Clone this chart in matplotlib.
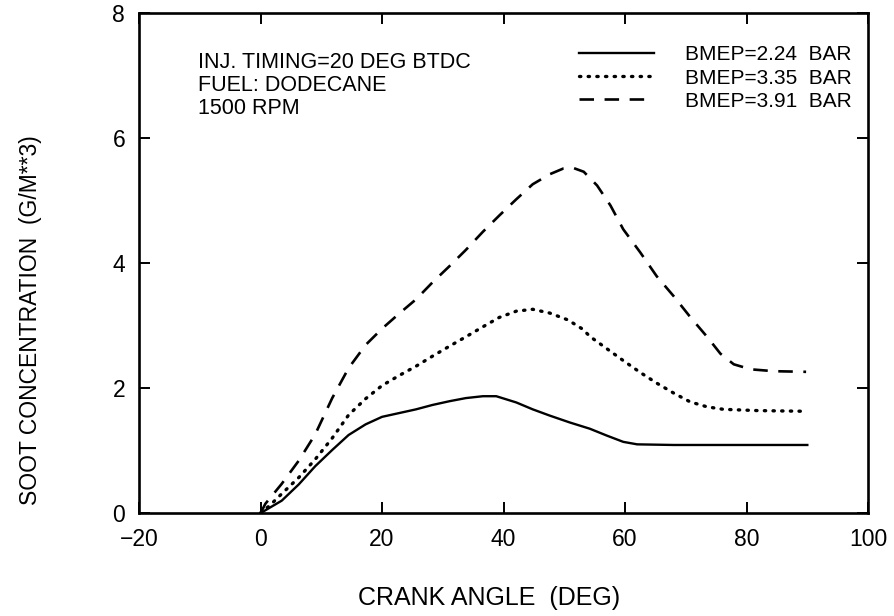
import matplotlib
matplotlib.use("Agg")
import matplotlib.pyplot as plt

plt.rcParams['font.family'] = ['Liberation Sans', 'DejaVu Sans']

# Data (crank angle in degrees, soot concentration in g/m^3)
x_224 = [0, 3.5, 6.3, 9.0, 11.8, 14.5, 17.3, 20.0, 22.8, 25.6, 28.3, 31.1, 33.8, 36.6,
         38.8, 42.1, 44.8, 47.6, 50.9, 54.2, 57.0, 59.7, 62.0, 68.0, 80.0, 90.0]
y_224 = [0, 0.20, 0.46, 0.75, 1.01, 1.25, 1.42, 1.54, 1.60, 1.66, 1.73, 1.79, 1.84, 1.87,
         1.87, 1.77, 1.66, 1.56, 1.45, 1.35, 1.24, 1.14, 1.10, 1.09, 1.09, 1.09]

x_335 = [0, 1.5, 3.5, 6.3, 9.0, 11.8, 14.5, 17.3, 20.0, 22.8, 25.6, 28.3, 31.1, 33.8, 36.6,
         39.3, 42.1, 44.8, 47.6, 50.6, 52.9, 54.3, 57.0, 59.7, 62.5, 65.2, 68.0, 70.7,
         73.5, 76.2, 81.8, 88.9]
y_335 = [0, 0.12, 0.31, 0.57, 0.86, 1.20, 1.57, 1.83, 2.04, 2.20, 2.35, 2.51, 2.67, 2.82,
         2.98, 3.13, 3.23, 3.26, 3.20, 3.09, 2.95, 2.82, 2.63, 2.44, 2.25, 2.08, 1.92, 1.78,
         1.70, 1.66, 1.64, 1.63]

x_391 = [0, 0.8, 3.5, 6.3, 9.0, 11.8, 14.5, 17.3, 20.0, 22.8, 25.6, 28.3, 31.1, 33.8, 36.6,
         39.3, 42.1, 44.8, 47.6, 49.8, 51.5, 53.2, 55.4, 57.6, 59.7, 62.5, 65.2, 68.0,
         70.7, 73.5, 75.7, 77.9, 80.7, 84.5, 89.8]
y_391 = [0, 0.15, 0.47, 0.84, 1.26, 1.84, 2.32, 2.69, 2.95, 3.19, 3.42, 3.69, 3.95, 4.21,
         4.50, 4.76, 5.02, 5.26, 5.42, 5.51, 5.52, 5.46, 5.24, 4.92, 4.54, 4.17, 3.79, 3.47,
         3.14, 2.82, 2.55, 2.38, 2.30, 2.27, 2.26]

labels = ["BMEP=2.24  BAR", "BMEP=3.35  BAR", "BMEP=3.91  BAR"]
info_lines = ["INJ. TIMING=20 DEG BTDC", "FUEL: DODECANE", "1500 RPM"]

x_ticks = [-20, 0, 20, 40, 60, 80, 100]
y_ticks = [0, 2, 4, 6, 8]

fig = plt.figure(figsize=(8.94, 6.16), dpi=100)
ax = fig.add_axes([0.1555, 0.167, 0.8155, 0.812])

l1, = ax.plot(x_224, y_224, color='black', lw=1.7, linestyle='-')
l2, = ax.plot(x_335, y_335, color='black', lw=2.4, linestyle=(0, (0.4, 2.2)),
              dash_capstyle='round')
l3, = ax.plot(x_391, y_391, color='black', lw=1.9, linestyle=(0, (5.5, 4)))

ax.set_xlim(-20, 100)
ax.set_ylim(0, 8)
ax.set_xticks(x_ticks)
ax.set_yticks(y_ticks)
ax.set_xticklabels(["\u221220" if t < 0 else str(t) for t in x_ticks])
ax.tick_params(direction='in', length=8, width=1.4, top=True, right=True,
               labelsize=16.5)
ax.tick_params(axis='x', pad=11)
ax.tick_params(axis='y', pad=10)
for s in ax.spines.values():
    s.set_linewidth(1.9)

ax.set_xlabel("CRANK ANGLE  (DEG)", fontsize=18)
ax.set_ylabel("SOOT CONCENTRATION  (G/M**3)", fontsize=16.5)
ax.xaxis.set_label_coords(0.48, -0.145)
ax.yaxis.set_label_coords(-0.1335, 0.386)

ax.text(0.081, 0.921, "\n".join(info_lines), transform=ax.transAxes,
        fontsize=15.5, va='top', ha='left', linespacing=1.12)

ax.legend([l1, l2, l3], labels, loc='upper right', bbox_to_anchor=(0.978, 0.935),
          frameon=False, fontsize=15, handlelength=3.6, handletextpad=1.5,
          labelspacing=0.2, borderpad=0, borderaxespad=0)

fig.savefig("out.png", dpi=100)
